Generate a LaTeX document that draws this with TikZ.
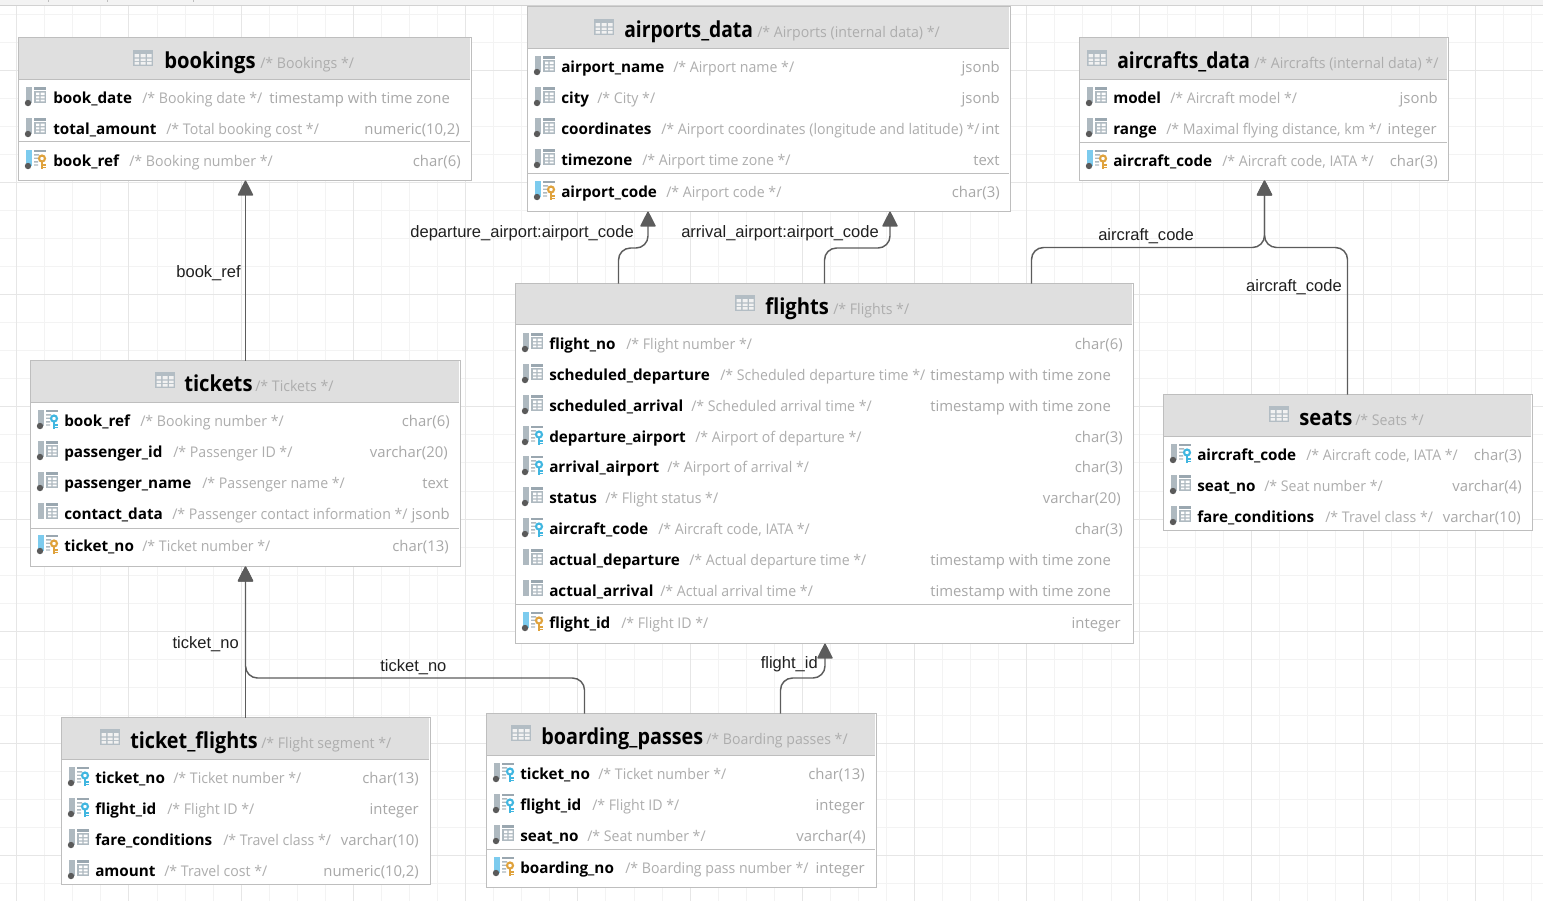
\documentclass[tikz,border=0pt]{standalone}
\usepackage{fontspec}
\usetikzlibrary{arrows.meta}
\newfontfamily\uifont[FakeStretch=0.96]{Open Sans}
\newfontfamily\uifontwide{Open Sans}
\newfontfamily\titlefont[FakeStretch=0.92]{Open Sans}
\newfontfamily\titlefontn[FakeStretch=0.875]{Open Sans}
\newfontfamily\titlefontm[FakeStretch=0.90]{Open Sans}
\newfontfamily\lblfont{Liberation Sans}
\definecolor{gridmin}{HTML}{F3F3F3}
\definecolor{gridmaj}{HTML}{E6E6E6}
\definecolor{tblborder}{HTML}{BEBEBE}
\definecolor{hdrfill}{HTML}{DFDFDF}
\definecolor{cmt}{HTML}{ADADAD}
\definecolor{typ}{HTML}{A8A8A8}
\definecolor{conn}{HTML}{5C5C5C}
\definecolor{iconbar}{HTML}{AEB9C0}
\definecolor{icongrid}{HTML}{9AA7B0}
\definecolor{iconblue}{HTML}{40B6E0}
\definecolor{barblue}{HTML}{7CCBEE}
\definecolor{icongold}{HTML}{DFA23C}
\definecolor{icondot}{HTML}{5A5A5A}
\tikzset{
  tbl/.style={draw=tblborder,fill=white,line width=0.75pt,inner sep=0pt,outer sep=0pt,anchor=north west},
  namet/.style={inner sep=0pt,anchor=base west,font=\uifontwide\bfseries\fontsize{11.45}{13}\selectfont,text=black},
  cmtt/.style={inner sep=0pt,anchor=base west,font=\uifont\fontsize{11.05}{13}\selectfont,text=cmt},
  typet/.style={inner sep=0pt,font=\uifontwide\fontsize{11.15}{13}\selectfont,text=typ},
  titlet/.style={inner sep=0pt,anchor=base west,font=\titlefont\bfseries\fontsize{16.5}{18}\selectfont,text=black},
  lbl/.style={inner sep=0pt,font=\lblfont\fontsize{12.4}{14}\selectfont,text=black!88},
  link/.style={draw=conn,line width=1.1pt,rounded corners=9pt},
  linkarrow/.style={link,-{Triangle[length=12pt,width=12pt,round=false]}},
}
\newcommand{\tn}[1]{{\titlefontn\bfseries\fontsize{16.5}{18}\selectfont #1}}
\newcommand{\tm}[1]{{\titlefontm\bfseries\fontsize{16.5}{18}\selectfont #1}}
\newcounter{rowc}
% table box: name, x0,y0,x1,y1, header bottom, separator y (0 = none)
\newcommand{\tablebox}[7]{%
  \node[tbl,minimum width={(#4-#2)*0.75pt},minimum height={(#5-#3)*0.75pt}] (#1) at (#2-0.1,#3-0.5) {};
  \fill[hdrfill] (#2+0.4,#3) rectangle (#4-1.6,#6-0.5);
  \draw[tblborder,line width=0.75pt] (#2-0.1,#6-0.5) -- (#4-1.6,#6-0.5);
  \ifnum#7>0 \draw[tblborder,line width=0.75pt] (#2-0.1,#7-0.5) -- (#4-1.6,#7-0.5);\fi
}
% header: icon x, icon y, name x, title, comment x, comment, base y
\newcommand{\tablehead}[7]{%
  \stepcounter{rowc}%
  \begin{scope}[shift={(#1,#2)}]
    \fill[icongrid!75] (0,-8) rectangle (20,8);
    \fill[hdrfill!40!white] (1.5,-4) rectangle (6,-0.6) (7.5,-4) rectangle (12.5,-0.6) (14,-4) rectangle (18.5,-0.6)
      (1.5,0.6) rectangle (6,3) (7.5,0.6) rectangle (12.5,3) (14,0.6) rectangle (18.5,3)
      (1.5,4.2) rectangle (6,6.6) (7.5,4.2) rectangle (12.5,6.6) (14,4.2) rectangle (18.5,6.6);
  \end{scope}
  \node[titlet] (h\therowc-n) at (#3,#7+0.8) {#4};
  \node[cmtt] (h\therowc-c) at (#5,#7+0.2) {#6};
}
\newcommand{\icbar}[1]{\fill[#1] (1,-10) rectangle (7,5.5);}
\newcommand{\icgrid}{\fill[icongrid] (9,-10) rectangle (21,-7.5);
  \fill[icongrid!80] (9,-6) rectangle (21,5.5);
  \fill[white] (11,-4.5) rectangle (14.4,-1.9) (15.6,-4.5) rectangle (19.6,-1.9)
     (11,-0.7) rectangle (14.4,1.3) (15.6,-0.7) rectangle (19.6,1.3)
     (11,2.5) rectangle (14.4,4.3) (15.6,2.5) rectangle (19.6,4.3);}
\newcommand{\ichalf}{\fill[icongrid] (9,-10) rectangle (21,-8);
  \fill[icongrid!80] (9,-6) rectangle (14,-4.5) (9,-2.5) rectangle (13,-1.1) (9,1) rectangle (13,2.5) (9,4.3) rectangle (13,5.7);}
\newcommand{\ickey}[1]{\draw[#1,line width=1.6pt] (17,-1.5) circle (3);
  \draw[#1,line width=2.2pt] (17,1.5) -- (17,8.5);
  \draw[#1,line width=1.3pt] (17,5) -- (21,5) (17,7.5) -- (21,7.5);}
\newcommand{\icdot}{\fill[icondot] (3,6) circle (3.2);}
\newcommand{\rowicon}[1]{%
  \if#1c \icbar{iconbar}\icgrid\icdot\fi
  \if#1n \icbar{iconbar}\icgrid\fi
  \if#1f \icbar{iconbar}\ichalf\ickey{iconblue}\icdot\fi
  \if#1p \icbar{barblue}\ichalf\ickey{icongold}\icdot\fi}
% kind, y, name, comment x, comment, type anchor (east/west), type x, type
\newcommand{\colrow}[8]{%
  \stepcounter{rowc}%
  \begin{scope}[shift={(\icx,#2)}]\rowicon{#1}\end{scope}
  \node[namet] (r\therowc-n) at (\nmx,#2+6.4) {#3};
  \node[cmtt] (r\therowc-c) at (#4,#2+6.4) {#5};
  \node[typet,anchor=base #6] (r\therowc-t) at (#7,#2+6.4) {#8};
}
\begin{document}
\begin{tikzpicture}[x=0.75pt,y=-0.75pt]
\useasboundingbox (0,0) rectangle (1543,901);
% canvas grid
\begin{scope}
  \clip (0,5) rectangle (1543,901);
  \foreach \k in {0,...,55} {
    \draw[gridmin,line width=0.75pt] ({16.7-0+28.06*\k},5) -- ({16.7+28.06*\k},901);}
  \foreach \k in {0,...,32} {
    \draw[gridmin,line width=0.75pt] (0,{14+28.06*\k}) -- (1543,{14+28.06*\k});}
  \foreach \k in {0,...,13} {
    \draw[gridmaj,line width=0.75pt] ({16.7+112.25*\k},5) -- ({16.7+112.25*\k},901);}
  \foreach \k in {0,...,7} {
    \draw[gridmaj,line width=0.75pt] (0,{70+112.25*\k}) -- (1543,{70+112.25*\k});}
\end{scope}
\fill[gridmin] (0,0) rectangle (1543,5);
\draw[tblborder!70,line width=0.75pt] (0,5.5) -- (1543,5.5);
\foreach \tx in {48,107,193} {\draw[tblborder,line width=0.75pt] (\tx,0) -- (\tx,2);}

% ---------- bookings
\tablebox{bookings}{19}{38}{472}{181}{80}{142}
\tablehead{133}{58}{164}{bookings}{260}{/* Bookings */}{68}
\def\icx{25}\def\nmx{53}
\colrow{c}{97}{book\_date}{142}{/* Booking date */}{west}{269}{timestamp with time zone}
\colrow{c}{128}{total\_amount}{166}{/* Total booking cost */}{east}{460}{numeric(10,2)}
\colrow{p}{160}{book\_ref}{129}{/* Booking number */}{east}{461}{char(6)}

% ---------- airports_data
\tablebox{airports_data}{528}{7}{1011}{212}{49}{174}
\tablehead{594}{27}{624}{\tn{airports\_data}}{757}{/* Airports (internal data) */}{37}
\def\icx{534}\def\nmx{561}
\colrow{c}{66}{airport\_name}{673}{/* Airport name */}{east}{1000}{jsonb}
\colrow{c}{97}{city}{597}{/* City */}{east}{1000}{jsonb}
\colrow{c}{128}{coordinates}{661}{/* Airport coordinates (longitude and latitude) */}{east}{1000}{int}
\colrow{c}{159}{timezone}{642}{/* Airport time zone */}{east}{1000}{text}
\colrow{p}{191}{airport\_code}{666}{/* Airport code */}{east}{1000}{char(3)}

% ---------- aircrafts_data
\tablebox{aircrafts_data}{1080}{38}{1449}{181}{80}{143}
\tablehead{1087}{58}{1117}{\tn{aircrafts\_data}}{1254}{/* Aircrafts (internal data) */}{68}
\def\icx{1086}\def\nmx{1113}
\colrow{c}{97}{model}{1170}{/* Aircraft model */}{east}{1438}{jsonb}
\colrow{c}{128}{range}{1166}{/* Maximal flying distance, km */}{east}{1437}{integer}
\colrow{p}{160}{aircraft\_code}{1222}{/* Aircraft code, IATA */}{east}{1438}{char(3)}

% ---------- flights
\tablebox{flights}{516}{284}{1134}{644}{325}{605}
\tablehead{735}{303}{765}{flights}{833}{/* Flights */}{314}
\def\icx{522}\def\nmx{549}
\colrow{c}{343}{flight\_no}{626}{/* Flight number */}{east}{1123}{char(6)}
\colrow{c}{374}{scheduled\_departure}{720}{/* Scheduled departure time */}{west}{930}{timestamp with time zone}
\colrow{c}{405}{scheduled\_arrival}{691}{/* Scheduled arrival time */}{west}{930}{timestamp with time zone}
\colrow{f}{436}{departure\_airport}{695}{/* Airport of departure */}{east}{1123}{char(3)}
\colrow{f}{466}{arrival\_airport}{667}{/* Airport of arrival */}{east}{1123}{char(3)}
\colrow{c}{497}{status}{605}{/* Flight status */}{east}{1121}{varchar(20)}
\colrow{f}{528}{aircraft\_code}{658}{/* Aircraft code, IATA */}{east}{1123}{char(3)}
\colrow{n}{559}{actual\_departure}{689}{/* Actual departure time */}{west}{930}{timestamp with time zone}
\colrow{n}{590}{actual\_arrival}{660}{/* Actual arrival time */}{west}{930}{timestamp with time zone}
\colrow{p}{622}{flight\_id}{621}{/* Flight ID */}{east}{1121}{integer}

% ---------- tickets
\tablebox{tickets}{31}{361}{461}{567}{403}{529}
\tablehead{155}{380}{184}{tickets}{255}{/* Tickets */}{391}
\def\icx{37}\def\nmx{64}
\colrow{f}{420}{book\_ref}{140}{/* Booking number */}{east}{450}{char(6)}
\colrow{c}{451}{passenger\_id}{173}{/* Passenger ID */}{east}{448}{varchar(20)}
\colrow{c}{482}{passenger\_name}{202}{/* Passenger name */}{east}{449}{text}
\colrow{n}{513}{contact\_data}{172}{/* Passenger contact information */}{east}{450}{jsonb}
\colrow{p}{545}{ticket\_no}{142}{/* Ticket number */}{east}{449}{char(13)}

% ---------- seats
\tablebox{seats}{1164}{395}{1533}{531}{437}{0}
\tablehead{1269}{414}{1299}{seats}{1355}{/* Seats */}{425}
\def\icx{1170}\def\nmx{1197}
\colrow{f}{454}{aircraft\_code}{1306}{/* Aircraft code, IATA */}{east}{1522}{char(3)}
\colrow{c}{485}{seat\_no}{1264}{/* Seat number */}{east}{1522}{varchar(4)}
\colrow{c}{516}{fare\_conditions}{1325}{/* Travel class */}{east}{1521}{varchar(10)}

% ---------- ticket_flights
\tablebox{ticket_flights}{62}{718}{431}{885}{760}{0}
\tablehead{100}{737}{130}{\tm{ticket\_flights}}{261}{/* Flight segment */}{748}
\def\icx{68}\def\nmx{95}
\colrow{f}{777}{ticket\_no}{173}{/* Ticket number */}{east}{419}{char(13)}
\colrow{f}{808}{flight\_id}{167}{/* Flight ID */}{east}{419}{integer}
\colrow{c}{839}{fare\_conditions}{223}{/* Travel class */}{east}{419}{varchar(10)}
\colrow{c}{870}{amount}{164}{/* Travel cost */}{east}{419}{numeric(10,2)}

% ---------- boarding_passes
\tablebox{boarding_passes}{487}{714}{877}{888}{756}{850}
\tablehead{511}{733}{541}{\tm{boarding\_passes}}{706}{/* Boarding passes */}{744}
\def\icx{493}\def\nmx{520}
\colrow{f}{773}{ticket\_no}{598}{/* Ticket number */}{east}{865}{char(13)}
\colrow{f}{804}{flight\_id}{592}{/* Flight ID */}{east}{865}{integer}
\colrow{c}{835}{seat\_no}{587}{/* Seat number */}{east}{866}{varchar(4)}
\colrow{p}{867}{boarding\_no}{625}{/* Boarding pass number */}{east}{865}{integer}

% ---------- connector ends on the table edges
\coordinate (bkS) at ([xshift={(245.6-19)*0.75pt}]bookings.south west);
\coordinate (tkN) at ([xshift={(245.6-31)*0.75pt}]tickets.north west);
\coordinate (tkS) at ([xshift={(245.6-31)*0.75pt}]tickets.south west);
\coordinate (apS1) at ([xshift={(648.1-528)*0.75pt}]airports_data.south west);
\coordinate (apS2) at ([xshift={(890.1-528)*0.75pt}]airports_data.south west);
\coordinate (acS) at ([xshift={(1264.6-1080)*0.75pt}]aircrafts_data.south west);
\coordinate (flN1) at ([xshift={(618.6-516)*0.75pt}]flights.north west);
\coordinate (flN2) at ([xshift={(824.6-516)*0.75pt}]flights.north west);
\coordinate (flN3) at ([xshift={(1031.6-516)*0.75pt}]flights.north west);
\coordinate (flS) at ([xshift={(825.1-516)*0.75pt}]flights.south west);
\coordinate (stN) at ([xshift={(1347.6-1164)*0.75pt}]seats.north west);
\coordinate (tfN) at ([xshift={(245.6-62)*0.75pt}]ticket_flights.north west);
\coordinate (bpN1) at ([xshift={(584.6-487)*0.75pt}]boarding_passes.north west);
\coordinate (bpN2) at ([xshift={(780.6-487)*0.75pt}]boarding_passes.north west);

% ---------- connectors
\draw[linkarrow] (tkN) -- (bkS);
\draw[linkarrow] (flN1) -- (flN1 |- 0,248) -- (apS1 |- 0,248) -- (apS1);
\draw[linkarrow] (flN2) -- (flN2 |- 0,248) -- (apS2 |- 0,248) -- (apS2);
\draw[linkarrow] (flN3) -- (flN3 |- 0,247.5) -- (acS |- 0,247.5) -- (acS);
\draw[linkarrow] (stN) -- (stN |- 0,247.5) -- (acS |- 0,247.5) -- (acS);
\draw[linkarrow] (tfN) -- (tkS);
\draw[linkarrow] (bpN1) -- (bpN1 |- 0,678) -- (tkS |- 0,678) -- (tkS);
\draw[linkarrow] (bpN2) -- (bpN2 |- 0,678) -- (flS |- 0,678) -- (flS);

% ---------- connector labels
\node[lbl,anchor=base east] (l1) at (241,277.5) {book\_ref};
\node[lbl,anchor=base east] (l2) at (634,237) {departure\_airport:airport\_code};
\node[lbl,anchor=base west] (l3) at (681,237) {arrival\_airport:airport\_code};
\node[lbl,anchor=base west] (l4) at (1098,240) {aircraft\_code};
\node[lbl,anchor=base east] (l5) at (1342,291) {aircraft\_code};
\node[lbl,anchor=base east] (l6) at (239,648) {ticket\_no};
\node[lbl,anchor=base west] (l7) at (380,671) {ticket\_no};
\node[lbl,anchor=base east] (l8) at (818,668) {flight\_id};
\end{tikzpicture}
\end{document}
